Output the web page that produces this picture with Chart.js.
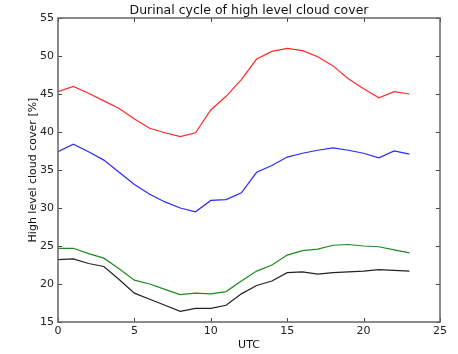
<!DOCTYPE html>
<html>
<head>
<meta charset="utf-8">
<script src="https://cdn.jsdelivr.net/npm/chart.js@4/dist/chart.umd.min.js"></script>
<style>
  html, body { margin: 0; padding: 0; background: #fff; }
  #wrap { width: 458px; height: 354px; }
</style>
</head>
<body>
<div id="wrap"><canvas id="c" width="458" height="354"></canvas></div>
<script>
// Hour of day (UTC)
const hours = [0,1,2,3,4,5,6,7,8,9,10,11,12,13,14,15,16,17,18,19,20,21,22,23];

// High level cloud cover [%] for each hour, four series
const redSeries   = [45.3,46.0,45.1,44.1,43.1,41.7,40.5,39.9,39.4,39.9,42.9,44.7,46.9,49.6,50.6,51.0,50.7,49.9,48.7,47.0,45.7,44.5,45.3,45.0];
const blueSeries  = [37.4,38.4,37.4,36.3,34.7,33.1,31.8,30.8,30.0,29.5,31.0,31.1,32.0,34.7,35.6,36.7,37.2,37.6,37.9,37.6,37.2,36.6,37.5,37.1];
const greenSeries = [24.7,24.7,24.0,23.4,22.0,20.5,20.0,19.3,18.6,18.8,18.7,19.0,20.4,21.7,22.5,23.8,24.4,24.6,25.1,25.2,25.0,24.9,24.5,24.1];
const blackSeries = [23.2,23.3,22.7,22.3,20.6,18.8,18.0,17.2,16.4,16.8,16.8,17.2,18.7,19.8,20.4,21.5,21.6,21.3,21.5,21.6,21.7,21.9,21.8,21.7];

const xTicks = [0,5,10,15,20,25];
const yTicks = [15,20,25,30,35,40,45,50,55];

const chartTitle = 'Durinal cycle of high level cloud cover';
const seriesColors = ['#ff2a2a', '#2a2aff', '#1e8c1e', '#222222'];

const font = "'DejaVu Sans', sans-serif";

function pts(vals) { return vals.map((v, i) => ({ x: hours[i], y: v })); }

// Axes frame with inward tick marks on all four sides, and the title centred over the axes
const frameTicks = {
  id: 'frameTicks',
  afterDraw(chart) {
    const { ctx, chartArea: a, scales: { x, y } } = chart;
    ctx.save();
    ctx.strokeStyle = '#444';
    ctx.lineWidth = 1;
    const len = 4;
    ctx.beginPath();
    xTicks.forEach(t => {
      const px = Math.round(x.getPixelForValue(t)) + 0.5;
      ctx.moveTo(px, a.bottom); ctx.lineTo(px, a.bottom - len);
      ctx.moveTo(px, a.top); ctx.lineTo(px, a.top + len);
    });
    yTicks.forEach(t => {
      const py = Math.round(y.getPixelForValue(t)) + 0.5;
      ctx.moveTo(a.left, py); ctx.lineTo(a.left + len, py);
      ctx.moveTo(a.right, py); ctx.lineTo(a.right - len, py);
    });
    ctx.stroke();
    ctx.strokeStyle = '#666';
    ctx.lineWidth = 1.5;
    ctx.strokeRect(a.left, a.top, a.right - a.left, a.bottom - a.top);

    ctx.fillStyle = '#111';
    ctx.font = "12.5px " + font;
    ctx.textAlign = 'center';
    ctx.textBaseline = 'middle';
    ctx.fillText(chartTitle, (a.left + a.right) / 2, 11);
    ctx.restore();
  }
};

new Chart(document.getElementById('c'), {
  type: 'scatter',
  data: {
    datasets: [redSeries, blueSeries, greenSeries, blackSeries].map((s, i) => ({
      data: pts(s),
      showLine: true,
      borderColor: seriesColors[i],
      borderWidth: 1.2,
      pointRadius: 0,
      tension: 0,
      fill: false
    }))
  },
  options: {
    responsive: false,
    animation: false,
    layout: { padding: { left: 22, right: 18, top: 18, bottom: 0 } },
    plugins: {
      legend: { display: false },
      tooltip: { enabled: false },
      title: { display: false }
    },
    scales: {
      x: {
        type: 'linear',
        min: 0, max: 25,
        afterBuildTicks: s => { s.ticks = xTicks.map(v => ({ value: v })); },
        grid: { display: false, drawTicks: false },
        border: { display: false },
        ticks: { color: '#222', font: { family: font, size: 11 }, padding: 3 },
        title: { display: true, text: 'UTC', color: '#111', font: { family: font, size: 11 }, padding: { top: 0, bottom: 2 } },
        afterFit: s => { s.height = 32; }
      },
      y: {
        type: 'linear',
        min: 15, max: 55,
        afterBuildTicks: s => { s.ticks = yTicks.map(v => ({ value: v })); },
        grid: { display: false, drawTicks: false },
        border: { display: false },
        ticks: { color: '#222', font: { family: font, size: 11 }, padding: 4 },
        title: { display: true, text: 'High level cloud cover [%]', color: '#111', font: { family: font, size: 11 }, padding: { top: 5, bottom: 0 } },
        afterFit: s => { s.width = 36; }
      }
    }
  },
  plugins: [frameTicks]
});
</script>
</body>
</html>
